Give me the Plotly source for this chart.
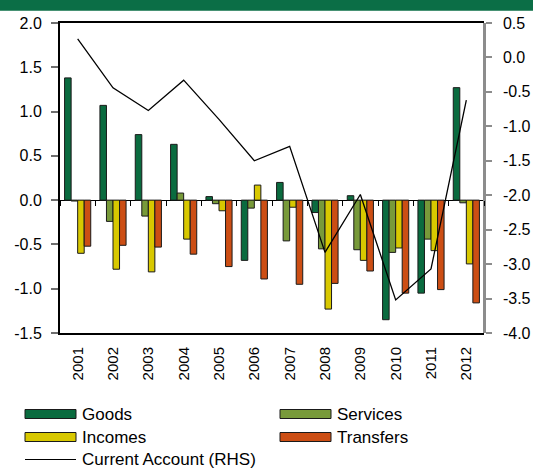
import plotly.graph_objects as go

# ---- data ---------------------------------------------------------------
years = ["2001", "2002", "2003", "2004", "2005", "2006",
         "2007", "2008", "2009", "2010", "2011", "2012"]

goods = [1.38, 1.07, 0.74, 0.63, 0.04, -0.68, 0.20, -0.14, 0.05, -1.35, -1.05, 1.27]
services = [-0.01, -0.24, -0.18, 0.08, -0.04, -0.09, -0.46, -0.55, -0.56, -0.59, -0.44, -0.03]
incomes = [-0.60, -0.78, -0.81, -0.44, -0.12, 0.17, -0.08, -1.23, -0.68, -0.54, -0.57, -0.72]
transfers = [-0.52, -0.51, -0.53, -0.61, -0.75, -0.89, -0.95, -0.94, -0.80, -1.05, -1.01, -1.16]
current_account = [0.27, -0.44, -0.77, -0.33, -0.90, -1.50, -1.29, -2.83, -1.99, -3.52, -3.07, -0.62]

series_names = ["Goods", "Services", "Incomes", "Transfers"]
line_name = "Current Account (RHS)"
header_text = "(% of GDP)"

left_ticks = [-1.5, -1.0, -0.5, 0.0, 0.5, 1.0, 1.5, 2.0]
left_labels = ["-1.5", "-1.0", "-0.5", "0.0", "0.5", "1.0", "1.5", "2.0"]
right_ticks = [-4.0, -3.5, -3.0, -2.5, -2.0, -1.5, -1.0, -0.5, 0.0, 0.5]
right_labels = ["-4.0", "-3.5", "-3.0", "-2.5", "-2.0", "-1.5", "-1.0", "-0.5", "0.0", "0.5"]

# ---- styling ------------------------------------------------------------
colors = ["#0a6b3f", "#789a3a", "#d8c800", "#cc4e14"]
header_green = "#0b6e46"
outline = "#1a1a1a"
FONT = "Liberation Sans, Arial, sans-serif"

W, H = 533, 468
ML, MR, MT, MB = 60, 49, 23, 135
PW, PH = W - ML - MR, H - MT - MB

Y_LEFT = [-1.5, 2.0]
Y_RIGHT = [-4.0, 0.5]


def px(x):
    """page pixel x -> paper x"""
    return (x - ML) / PW


def py(y):
    """page pixel y -> paper y"""
    return 1 - (y - MT) / PH


fig = go.Figure()

for name, vals, col in zip(series_names, [goods, services, incomes, transfers], colors):
    fig.add_trace(go.Bar(
        x=years, y=vals, name=name,
        marker=dict(color=col, line=dict(color=outline, width=1)),
        xaxis="x", yaxis="y", showlegend=False,
    ))

fig.add_trace(go.Scatter(
    x=years, y=current_account, name=line_name, mode="lines",
    line=dict(color="black", width=1.3),
    xaxis="x2", yaxis="y2", showlegend=False,
))

zero_pos = (0 - Y_LEFT[0]) / (Y_LEFT[1] - Y_LEFT[0])

fig.update_layout(
    template="none",
    width=W, height=H,
    margin=dict(l=ML, r=MR, t=MT, b=MB, pad=0, autoexpand=False),
    plot_bgcolor="white", paper_bgcolor="white",
    barmode="group", bargap=0.26, bargroupgap=0,
    showlegend=False,
    font=dict(family=FONT, size=16, color="black"),
    xaxis=dict(
        type="category", categoryorder="array", categoryarray=years,
        range=[-0.5, len(years) - 0.5], automargin=False,
        showline=True, linecolor="black", linewidth=2, mirror=True,
        ticks="outside", ticklen=6, tickcolor="rgba(0,0,0,0)",
        tickangle=-90, showgrid=False, zeroline=False,
        tickfont=dict(size=15),
    ),
    xaxis2=dict(
        type="category", categoryorder="array", categoryarray=years,
        range=[-0.5, len(years) - 0.5], automargin=False,
        overlaying="x", anchor="free", position=zero_pos,
        ticks="outside", tickson="boundaries", ticklen=5,
        tickcolor="black", tickwidth=1.2,
        showticklabels=False, showgrid=False, showline=False, zeroline=False,
    ),
    yaxis=dict(
        range=Y_LEFT, tickvals=left_ticks, ticktext=left_labels, automargin=False,
        ticks="outside", ticklen=7, tickcolor="#6e6e6e", tickwidth=1.5,
        showline=True, linecolor="black", linewidth=2,
        showgrid=False, zeroline=True, zerolinecolor="black", zerolinewidth=1,
        ticklabelstandoff=6,
    ),
    yaxis2=dict(
        range=Y_RIGHT, tickvals=right_ticks, ticktext=right_labels, automargin=False,
        overlaying="y", side="right", anchor="free", position=1,
        ticks="outside", ticklen=6, tickcolor="#8c8c8c", tickwidth=1.5,
        showline=True, linecolor="#8c8c8c", linewidth=2.5,
        showgrid=False, zeroline=False,
        ticklabelstandoff=8,
    ),
)

shapes = []
annotations = []

# header band across the top of the page
shapes.append(dict(type="rect", xref="paper", yref="paper",
                   x0=px(-10), x1=px(W + 10), y0=py(10.7), y1=py(-10),
                   fillcolor=header_green, line=dict(width=0), layer="above"))
annotations.append(dict(text=header_text, xref="paper", yref="paper",
                        x=px(266), y=py(-0.5), xanchor="center", yanchor="bottom",
                        showarrow=False, borderpad=0,
                        font=dict(family=FONT, size=20, color="white", weight="bold")))

# legend built from swatches and labels
legend_slots = [(25, 414), (280, 414), (25, 437), (280, 437)]
for (lx, ly), name, col in zip(legend_slots, series_names, colors):
    shapes.append(dict(type="rect", xref="paper", yref="paper",
                       x0=px(lx), x1=px(lx + 51), y0=py(ly + 4.5), y1=py(ly - 4.5),
                       fillcolor=col, line=dict(color=outline, width=1)))
    annotations.append(dict(text=name, xref="paper", yref="paper",
                            x=px(lx + 55), y=py(ly), xanchor="left", yanchor="middle",
                            showarrow=False, font=dict(family=FONT, size=17, color="black")))

shapes.append(dict(type="line", xref="paper", yref="paper",
                   x0=px(25), x1=px(76), y0=py(459.5), y1=py(459.5),
                   line=dict(color="black", width=1.2)))
annotations.append(dict(text=line_name, xref="paper", yref="paper",
                        x=px(80), y=py(459), xanchor="left", yanchor="middle",
                        showarrow=False, font=dict(family=FONT, size=17, color="black")))

fig.update_layout(shapes=shapes, annotations=annotations)

fig.write_html("out.html")
